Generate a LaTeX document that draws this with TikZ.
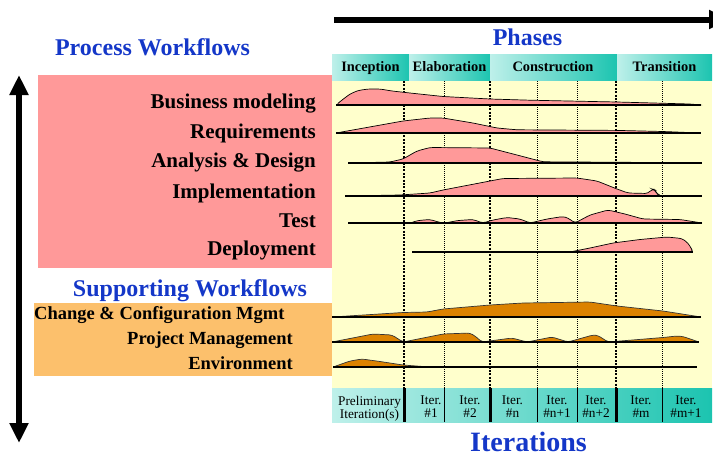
\documentclass[tikz,border=0pt]{standalone}
\usepackage{fontspec}
\setmainfont{Liberation Serif}
\usetikzlibrary{arrows.meta}
\definecolor{wfblue}{RGB}{20,55,200}
\definecolor{pinkbox}{RGB}{255,153,153}
\definecolor{orangebox}{RGB}{252,192,108}
\definecolor{orangefill}{RGB}{220,130,0}
\definecolor{bgyellow}{RGB}{255,255,204}
\definecolor{cyanlight}{RGB}{190,240,234}
\definecolor{phaseteal}{RGB}{28,196,176}
\tikzset{
  heading/.style={font=\fontsize{24}{24}\selectfont\bfseries, text=wfblue, inner sep=0, anchor=base},
  proclabel/.style={font=\fontsize{21}{21}\selectfont\bfseries, inner sep=0, anchor=base east},
  suplabel/.style={font=\fontsize{18.5}{18.5}\selectfont\bfseries, inner sep=0},
  phaselabel/.style={font=\fontsize{14.4}{14.4}\selectfont\bfseries, inner sep=0, anchor=base},
  iterlabel/.style={font=\fontsize{13.3}{13}\selectfont, inner sep=0, align=center, anchor=north},
  phasecell/.style={left color=cyanlight, right color=phaseteal, draw=none},
  curvepink/.style={fill=pinkbox, draw=black, line width=0.7pt, rounded corners=3pt},
  curveorange/.style={fill=orangefill, draw=black!80, line width=0.7pt, rounded corners=3pt},
  wfline/.style={draw=black, line width=1.4pt},
  bigarrow/.style={line width=6pt},
  phasediv/.style={line width=2.6pt, dash pattern=on 2pt off 1.4pt},
  iterdiv/.style={line width=0.8pt, dash pattern=on 1pt off 1pt},
  thicksep/.style={line width=3pt},
  thinsep/.style={line width=0.8pt}
}
\begin{document}
\begin{tikzpicture}[x=1pt,y=-1pt]
\useasboundingbox (0,0) rectangle (713,456);
\clip (0,0) rectangle (713,456);
% backgrounds
\fill[bgyellow] (332,80) rectangle (712,388);
\fill[pinkbox] (38,75) rectangle (332,268);
\fill[orangebox] (34,303) rectangle (332,376);
% dividers
\foreach \x in {404,490,616} \draw[phasediv] (\x,81) -- (\x,388);
\foreach \x in {444,537,577,662} \draw[iterdiv] (\x,81) -- (\x,388);
% process curves
\filldraw[curvepink] (336,105) -- (342,100) -- (350,94) -- (358,90.5) -- (368,89) -- (380,89) -- (392,91) -- (410,93) -- (443,96.5) -- (490,99) -- (530,100.2) -- (617,102) -- (690,104) -- (701,105) -- cycle;
\filldraw[curvepink] (336,133) -- (403,121) -- (430,118) -- (443,118) -- (473,123) -- (497,128) -- (517,129.8) -- (617,130.4) -- (663,131.5) -- (701,133) -- cycle;
\filldraw[curvepink] (348,163) -- (390,162) -- (403,159) -- (417,151) -- (430,147.5) -- (490,148) -- (517,155) -- (543,161.8) -- (640,162.4) -- (700,163) -- cycle;
\filldraw[curvepink] (345,196) -- (400,195) -- (430,193) -- (443,190) -- (490,181) -- (503,178.5) -- (577,178) -- (597,181) -- (617,189) -- (628,193) -- (648,193.5) -- (652,189) -- (655,190) -- (657,194) -- (662,196) -- cycle;
\filldraw[curvepink] (410,223) -- (418,220.5) -- (430,219.5) -- (440,222.5) -- (445,223) -- (458,220.5) -- (473,219.5) -- (480,222) -- (483,223) -- (493,220) -- (507,217.5) -- (520,219) -- (530,223) -- (547,219) -- (563,216.5) -- (568,218) -- (575,223) -- (590,215) -- (608,210) -- (625,214) -- (643,219) -- (680,219.5) -- (702,223) -- cycle;
\filldraw[curvepink] (570,252) -- (590,248) -- (613,243) -- (640,239.5) -- (667,237) -- (682,238.5) -- (688,243) -- (691,248) -- (693,252) -- cycle;
% supporting curves
\filldraw[curveorange] (332,317) -- (403,312.5) -- (427,312) -- (443,309) -- (490,305) -- (523,303) -- (590,302) -- (617,306) -- (663,311) -- (701,317) -- cycle;
\filldraw[curveorange] (332,342) -- (373,334) -- (392,335) -- (403,342) -- (443,334) -- (470,333) -- (475,336) -- (482,342) -- (512,338) -- (527,342) -- (552,337) -- (568,342) -- (593,335) -- (598,335.5) -- (608,342) -- (663,337.5) -- (677,336) -- (683,336.5) -- (699,342) -- cycle;
\filldraw[curveorange] (333,367) -- (350,361) -- (362,359) -- (380,361.5) -- (403,365) -- (423,366.5) -- (443,367) -- cycle;
% baselines
\draw[wfline] (336,105) -- (701,105);
\draw[wfline] (336,133) -- (701,133);
\draw[wfline] (348,163) -- (702,163);
\draw[wfline] (345,196) -- (702,196);
\draw[wfline] (348,223) -- (702,223);
\draw[wfline] (412,252) -- (693,252);
\draw[wfline] (332,317) -- (701,317);
\draw[wfline] (332,342) -- (699,342);
\draw[wfline] (333,367) -- (697,367);
% phase bar
\shade[phasecell] (332,54) rectangle (409,80);
\shade[phasecell] (409,54) rectangle (490,80);
\shade[phasecell] (490,54) rectangle (617,80);
\shade[phasecell] (617,54) rectangle (712,80);
\node[phaselabel] (inc) at (370.5,71) {Inception};
\node[phaselabel] (ela) at (449.5,71) {Elaboration};
\node[phaselabel] (con) at (553,71) {Construction};
\node[phaselabel] (tra) at (664.5,71) {Transition};
% iteration bar
\shade[phasecell] (332,388) rectangle (712,422);
\foreach \x in {404.5,490,616} \draw[thicksep] (\x,388) -- (\x,422);
\foreach \x in {444,537,577,662} \draw[thinsep] (\x,388) -- (\x,422);
\node[iterlabel] (itp) at (369.5,396) {Preliminary\\Iteration(s)};
\node[iterlabel] (it1) at (431,396) {Iter.\\\#1};
\node[iterlabel] (it2) at (470,396) {Iter.\\\#2};
\node[iterlabel] (itn) at (512.5,396) {Iter.\\\#n};
\node[iterlabel] (itn1) at (557,396) {Iter.\\\#n+1};
\node[iterlabel] (itn2) at (596,396) {Iter.\\\#n+2};
\node[iterlabel] (itm) at (641,396) {Iter.\\\#m};
\node[iterlabel] (itm1) at (686,396) {Iter.\\\#m+1};
% headings
\node[heading] (phases) at (527.5,45) {Phases};
\node[heading, font=\fontsize{28}{28}\selectfont\bfseries] (iters) at (528.5,451.5) {Iterations};
\node[heading] (pw) at (152.5,55) {Process Workflows};
\node[heading] (sw) at (190,296) {Supporting Workflows};
% process labels
\node[proclabel] (bm) at (316,108.5) {Business modeling};
\node[proclabel] (rq) at (316,138) {Requirements};
\node[proclabel] (ad) at (316,167.7) {Analysis \& Design};
\node[proclabel] (im) at (316,198.3) {Implementation};
\node[proclabel] (ts) at (316,227.3) {Test};
\node[proclabel] (dp) at (316,255.7) {Deployment};
% supporting labels
\node[suplabel, anchor=base west] (ccm) at (34,319.3) {Change \& Configuration Mgmt};
\node[suplabel, anchor=base east] (pm) at (293,344) {Project Management};
\node[suplabel, anchor=base east] (env) at (293,369) {Environment};
% arrows
\coordinate (hl) at (334,19.5);
\coordinate (hr) at (729,19.5);
\draw[bigarrow, -{Triangle[length=20pt,width=18pt]}] (hl) -- (hr);
\coordinate (vt) at (19,75);
\coordinate (vb) at (19,443);
\draw[bigarrow, {Triangle[length=20pt,width=18pt]}-{Triangle[length=20pt,width=18pt]}] (vt) -- (vb);
\end{tikzpicture}
\end{document}
